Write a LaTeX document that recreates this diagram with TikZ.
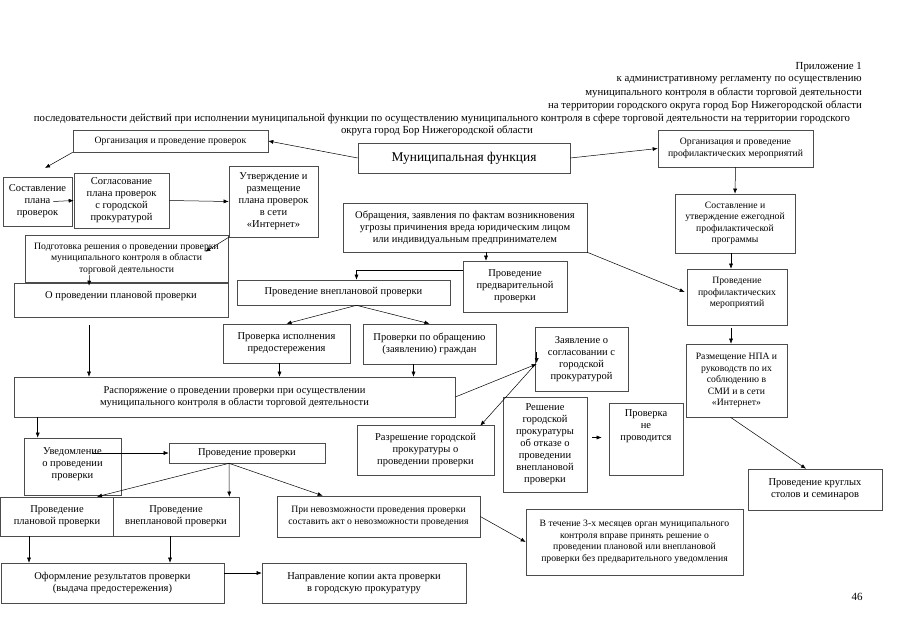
\documentclass[tikz,border=0pt]{standalone}
\usepackage{fontspec}
\setmainfont{Liberation Serif}
\usetikzlibrary{arrows.meta,positioning,calc}

\begin{document}
\begin{tikzpicture}[x=1pt, y=1pt,
      box/.style={draw=black!70, line width=0.6pt, align=center, inner sep=1pt,
        font=\fontsize{10.5}{12}\selectfont},
      small/.style={font=\fontsize{9.7}{11.5}\selectfont},
      head/.style={anchor=east, inner sep=0pt, font=\fontsize{10.8}{12}\selectfont},
      arr/.style={-{Latex[length=5pt,width=4pt]}, line width=0.5pt}]
    \useasboundingbox (0,0) rectangle (905,-640);
    % heading
    \node[head] (app) at (862,-67) {Приложение 1};
    \node[head] (reg) at (862,-80) {к административному регламенту по осуществлению};
    \node[head] (ctl) at (862,-93) {муниципального контроля  в области торговой деятельности};
    \node[head] (ter) at (862,-106) {на территории городского округа город Бор Нижегородской области};
    \node[head, anchor=center] (ttl1) at (442,-118.5) {последовательности действий при исполнении муниципальной функции  по осуществлению муниципального контроля в сфере торговой деятельности  на территории городского};
    \node[head, anchor=center] (ttl2) at (437,-130.5) {округа город Бор Нижегородской области};
    % top row
    \node[box, font=\fontsize{13.4}{15}\selectfont, minimum width=212, minimum height=30] (func) at (464,-158) {Муниципальная функция};
    \node[box, small, minimum width=195, minimum height=22] (org) at (170.5,-141) {Организация и проведение проверок};
    \node[box, small, minimum width=155, minimum height=37] (prof) at (735.5,-148.5) {Организация и проведение\\профилактических  мероприятий};
    % plan branch
    \node[box, minimum width=69, minimum height=49] (plan) at (37.5,-201.5) {Составление\\плана\\проверок};
    \node[box, minimum width=95, minimum height=55] (agree) at (121.5,-200.5) {Согласование\\плана проверок\\с  городской\\прокуратурой};
    \node[box, minimum width=89, minimum height=71] (approve) at (273.5,-201.5) {Утверждение и\\размещение\\плана проверок\\в сети\\«Интернет»};
    \node[box, small, minimum width=203, minimum height=47] (prep) at (126.5,-258.5) {Подготовка решения о проведении проверки\\муниципального контроля в области\\торговой деятельности};
    \node[box, minimum width=214, minimum height=34] (planned) at (121,-300) {О проведении плановой проверки\\[-2pt]~};
    % unscheduled branch
    \node[box, minimum width=244, minimum height=49] (appeal) at (465,-227.5) {Обращения, заявления по фактам возникновения\\угрозы причинения вреда юридическим лицом\\или индивидуальным предпринимателем};
    \node[box, minimum width=104, minimum height=51] (prelim) at (515,-286.5) {Проведение\\предварительной\\проверки};
    \node[box, minimum width=213, minimum height=25] (unpl) at (343.5,-292.5) {Проведение внеплановой проверки};
    \node[box, minimum width=127, minimum height=39] (warncheck) at (286.5,-343.5) {Проверка исполнения\\предостережения};
    \node[box, minimum width=133, minimum height=40] (citcheck) at (429.5,-344) {Проверки по обращению\\(заявлению) граждан};
    \node[box, minimum width=441, minimum height=40] (order) at (234.5,-397) {Распоряжение о проведении проверки при осуществлении\\муниципального контроля в области торговой деятельности};
    \node[box, minimum width=93, minimum height=64] (apply) at (581.5,-359) {Заявление о\\согласовании с\\городской\\прокуратурой};
    \node[box, minimum width=137, minimum height=50] (permit) at (425.5,-450) {Разрешение городской\\прокуратуры о\\проведении проверки};
    \node[box, minimum width=84, minimum height=95] (refuse) at (545,-444.5) {Решение\\городской\\прокуратуры\\об отказе о\\проведении\\внеплановой\\проверки};
    \node[box, minimum width=74, minimum height=72] (nocheck) at (646,-439) {Проверка\\не\\проводится\\[16pt]~};
    % prevention branch
    \node[box, small, minimum width=120, minimum height=59] (program) at (735,-223.5) {Составление и\\утверждение  ежегодной\\профилактической\\программы};
    \node[box, small, minimum width=100, minimum height=56] (profevt) at (737,-297) {Проведение\\профилактических\\мероприятий\\[-1.5pt]~};
    \node[box, small, minimum width=101, minimum height=73] (npa) at (736.5,-380.5) {Размещение НПА и\\руководств по их\\соблюдению  в\\СМИ и в сети\\«Интернет»};
    \node[box, minimum width=134, minimum height=41] (rounds) at (815,-489.5) {Проведение круглых\\столов и семинаров};
    % inspection
    \node[box, minimum width=97, minimum height=57] (notify) at (72.5,-466.5) {Уведомление\\о проведении\\проверки\\[-6pt]~};
    \node[box, minimum width=156, minimum height=20] (conduct) at (247,-453) {Проведение проверки};
    \node[box, minimum width=113, minimum height=39] (plchk) at (57,-516.5) {Проведение\\плановой проверки};
    \node[box, minimum width=126, minimum height=39] (unchk) at (176,-516.5) {Проведение\\внеплановой проверки};
    \node[box, small, minimum width=203, minimum height=41] (impossible) at (378.5,-516.5) {При невозможности проведения проверки\\составить акт  о невозможности проведения};
    \node[box, small, minimum width=217, minimum height=66] (within) at (634.5,-542) {В течение 3-х месяцев орган муниципального\\контроля вправе принять решение о\\проведении плановой или внеплановой\\проверки без предварительного уведомления};
    \node[box, minimum width=223, minimum height=40] (result) at (112.5,-583) {Оформление результатов проверки\\(выдача предостережения)};
    \node[box, minimum width=204, minimum height=40] (sendcopy) at (364,-583) {Направление копии акта проверки\\в городскую прокуратуру};
    \node[font=\fontsize{11}{13}\selectfont] (page) at (857,-597) {46};
    % connectors
    \coordinate (orgtip) at (45,-168);
    \draw[arr] (func.west) -- (org.east);
    \draw[arr] (org.south west) -- (orgtip);
    \draw[arr] ([xshift=-19pt]plan.east) -- (agree.west);
    \draw[arr] (agree.east) -- (approve.west);
    \draw[arr] (approve.south west) -- ($(prep.north east)+(-23,-17)$);
    \draw[arr] ($(prep.south)+(-37,7)$) -- ($(planned.north)+(-32,-3)$);
    \draw[arr] ([shift={(-32,-8)}]planned.south) -- ([xshift=-32pt]planned.south |- order.north);
    \draw[arr] ([xshift=21pt]appeal.south) -- ([xshift=21pt]appeal.south |- prelim.north);
    \draw[arr] ([yshift=16pt]prelim.west) -| ([xshift=13pt]unpl.north);
    \draw[arr] ([xshift=13pt]unpl.south) -- (warncheck.north);
    \draw[arr] ([xshift=13pt]unpl.south) -- (citcheck.north);
    \draw[arr] ([xshift=-7pt]warncheck.south) -- ([xshift=-7pt]warncheck.south |- order.north);
    \draw[arr] ([xshift=-16pt]citcheck.south) -- ([xshift=-16pt]citcheck.south |- order.north);
    \draw[arr] (order.east) -- ([shift={(2,-5)}]apply.west);
    \draw[arr] ([shift={(2,7)}]apply.west) -- ([shift={(2,-4)}]apply.west);
    \draw[arr] ([yshift=-6pt]apply.west) -- ([shift={(-14,-1)}]permit.north east);
    \draw[arr] ([shift={(5,7)}]refuse.east) -- ([shift={(-7,1.5)}]nocheck.west);
    \draw[arr] (func.east) -- (prof.west);
    \draw[arr] (prof.south) -- (program.north);
    \draw[arr] ([xshift=-4pt]program.south) -- ([xshift=-4pt]program.south |- profevt.north);
    \draw[arr] (appeal.south east) -- ([shift={(-2,5)}]profevt.west);
    \draw[arr] ([shift={(-6,-3)}]profevt.south) -- ([xshift=-6pt]profevt.south |- npa.north);
    \draw[arr] ([xshift=-6pt]npa.south) -- ([xshift=-9pt]rounds.north);
    \draw[arr] ([xshift=24pt]order.south west) -- ([xshift=24pt]order.south west |- notify.north);
    \draw[arr] ([xshift=-28pt]notify.east |- conduct.west) -- (conduct.west);
    \draw[arr] ([xshift=-18pt]conduct.south) -- ([xshift=40pt]plchk.north);
    \draw[arr] ([xshift=-18pt]conduct.south) -- ([xshift=-10pt]unchk.north east);
    \draw[arr] ([xshift=-18pt]conduct.south) -- ([xshift=46pt]impossible.north west);
    \draw[arr] (impossible.east) -- (within.west);
    \draw[arr] ([xshift=-28pt]plchk.south) -- ([xshift=-28pt]plchk.south |- result.north);
    \draw[arr] ([xshift=-6pt]unchk.south) -- ([xshift=-6pt]unchk.south |- result.north);
    \draw[arr] ([yshift=10pt]result.east) -- ([yshift=10pt]sendcopy.west |- result.east);
\end{tikzpicture}
\end{document}
